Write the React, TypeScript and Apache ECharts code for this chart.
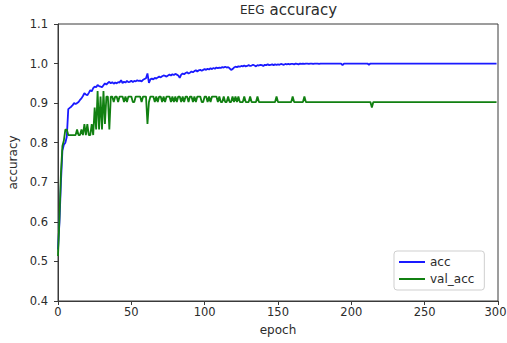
import React, { useEffect, useRef } from "react";
import * as echarts from "echarts";

const xTicks = [0, 50, 100, 150, 200, 250, 300];
const yTicks = [0.4, 0.5, 0.6, 0.7, 0.8, 0.9, 1.0, 1.1];

const acc = [
  0.53, 0.60, 0.70, 0.78, 0.795, 0.80, 0.815, 0.885, 0.888, 0.891,
  0.895, 0.90, 0.898, 0.90, 0.903, 0.908, 0.912, 0.918, 0.925, 0.922,
  0.92, 0.926, 0.933, 0.93, 0.938, 0.942, 0.94, 0.946, 0.943, 0.942,
  0.94, 0.945, 0.95, 0.947, 0.951, 0.954, 0.95, 0.953, 0.949, 0.952,
  0.95, 0.953, 0.952, 0.958, 0.951, 0.954, 0.952, 0.956, 0.953, 0.954,
  0.957, 0.953, 0.956, 0.955, 0.958, 0.956, 0.957, 0.955, 0.959, 0.961,
  0.963, 0.975, 0.951, 0.96, 0.962, 0.96, 0.964, 0.962, 0.965, 0.967,
  0.965, 0.968, 0.97, 0.969, 0.967, 0.97, 0.972, 0.97, 0.973, 0.971,
  0.974, 0.972, 0.97, 0.964, 0.972, 0.975, 0.973, 0.976, 0.978, 0.975,
  0.977, 0.98, 0.978, 0.981, 0.983, 0.98, 0.983, 0.984, 0.982, 0.984,
  0.986, 0.984, 0.987, 0.985, 0.988, 0.986, 0.989, 0.987, 0.99, 0.988,
  0.99, 0.989, 0.991, 0.99, 0.992, 0.99, 0.991, 0.988, 0.984, 0.986,
  0.99, 0.992, 0.991, 0.993, 0.992, 0.994, 0.993, 0.995, 0.993, 0.994,
  0.996, 0.994, 0.995, 0.997, 0.995, 0.993, 0.996, 0.995, 0.997, 0.996,
  0.994, 0.997, 0.996, 0.998, 0.996, 0.997, 0.998, 0.996, 0.998, 0.997,
  0.998, 0.997, 0.999, 0.998, 0.997, 0.999, 0.998, 0.999, 0.998, 0.999,
  0.999, 0.998, 1.0, 0.999, 0.998, 1.0, 0.999, 1.0, 0.999, 1.0,
  1.0, 0.999, 1.0, 1.0, 0.999, 1.0, 1.0, 1.0, 0.999, 1.0,
  1.0, 1.0, 1.0, 1.0, 1.0, 1.0, 1.0, 1.0, 1.0, 1.0,
  1.0, 1.0, 1.0, 1.0, 0.996, 1.0, 1.0, 1.0, 1.0, 1.0,
  1.0, 1.0, 1.0, 1.0, 1.0, 1.0, 1.0, 1.0, 1.0, 1.0,
  1.0, 1.0, 0.997, 1.0, 1.0, 1.0, 1.0, 1.0, 1.0, 1.0,
  1.0, 1.0, 1.0, 1.0, 1.0, 1.0, 1.0, 1.0, 1.0, 1.0,
  1.0, 1.0, 1.0, 1.0, 1.0, 1.0, 1.0, 1.0, 1.0, 1.0,
  1.0, 1.0, 1.0, 1.0, 1.0, 1.0, 1.0, 1.0, 1.0, 1.0,
  1.0, 1.0, 1.0, 1.0, 1.0, 1.0, 1.0, 1.0, 1.0, 1.0,
  1.0, 1.0, 1.0, 1.0, 1.0, 1.0, 1.0, 1.0, 1.0, 1.0,
  1.0, 1.0, 1.0, 1.0, 1.0, 1.0, 1.0, 1.0, 1.0, 1.0,
  1.0, 1.0, 1.0, 1.0, 1.0, 1.0, 1.0, 1.0, 1.0, 1.0,
  1.0, 1.0, 1.0, 1.0, 1.0, 1.0, 1.0, 1.0, 1.0, 1.0,
];

const valAcc = [
  0.5139, 0.6111, 0.7222, 0.7917, 0.8056, 0.8333, 0.8333, 0.8194, 0.8194, 0.8194,
  0.8194, 0.8194, 0.8194, 0.8333, 0.8194, 0.8194, 0.8333, 0.8194, 0.8472, 0.8194,
  0.8472, 0.8194, 0.8194, 0.8472, 0.8194, 0.8889, 0.8333, 0.9306, 0.8333, 0.9167,
  0.8333, 0.9306, 0.8472, 0.9167, 0.9167, 0.8333, 0.9167, 0.9167, 0.9028, 0.9167,
  0.9167, 0.9028, 0.9167, 0.9167, 0.9167, 0.9028, 0.9167, 0.9028, 0.9167, 0.9167,
  0.9167, 0.9028, 0.9028, 0.9167, 0.9167, 0.9167, 0.9167, 0.9028, 0.9167, 0.9167,
  0.9167, 0.8472, 0.9028, 0.9167, 0.9167, 0.9167, 0.9028, 0.9167, 0.9028, 0.9167,
  0.9167, 0.9028, 0.9167, 0.9028, 0.9167, 0.9167, 0.9167, 0.9028, 0.9167, 0.9028,
  0.9167, 0.9028, 0.9167, 0.9167, 0.9028, 0.9167, 0.9028, 0.9167, 0.9167, 0.9028,
  0.9167, 0.9167, 0.9028, 0.9167, 0.9028, 0.9167, 0.9167, 0.9167, 0.9028, 0.9028,
  0.9167, 0.9167, 0.9028, 0.9167, 0.9028, 0.9167, 0.9167, 0.9167, 0.9167, 0.9028,
  0.9167, 0.9028, 0.9028, 0.9167, 0.9028, 0.9028, 0.9167, 0.9028, 0.9028, 0.9167,
  0.9028, 0.9167, 0.9028, 0.9167, 0.9028, 0.9028, 0.9028, 0.9167, 0.9028, 0.9028,
  0.9028, 0.9167, 0.9028, 0.9028, 0.9028, 0.9028, 0.9167, 0.9028, 0.9028, 0.9028,
  0.9028, 0.9028, 0.9028, 0.9028, 0.9028, 0.9028, 0.9028, 0.9028, 0.9028, 0.9167,
  0.9028, 0.9028, 0.9028, 0.9028, 0.9028, 0.9028, 0.9028, 0.9028, 0.9028, 0.9028,
  0.9167, 0.9028, 0.9028, 0.9028, 0.9028, 0.9028, 0.9028, 0.9028, 0.9167, 0.9028,
  0.9028, 0.9028, 0.9028, 0.9028, 0.9028, 0.9028, 0.9028, 0.9028, 0.9028, 0.9028,
  0.9028, 0.9028, 0.9028, 0.9028, 0.9028, 0.9028, 0.9028, 0.9028, 0.9028, 0.9028,
  0.9028, 0.9028, 0.9028, 0.9028, 0.9028, 0.9028, 0.9028, 0.9028, 0.9028, 0.9028,
  0.9028, 0.9028, 0.9028, 0.9028, 0.9028, 0.9028, 0.9028, 0.9028, 0.9028, 0.9028,
  0.9028, 0.9028, 0.9028, 0.9028, 0.8889, 0.9028, 0.9028, 0.9028, 0.9028, 0.9028,
  0.9028, 0.9028, 0.9028, 0.9028, 0.9028, 0.9028, 0.9028, 0.9028, 0.9028, 0.9028,
  0.9028, 0.9028, 0.9028, 0.9028, 0.9028, 0.9028, 0.9028, 0.9028, 0.9028, 0.9028,
  0.9028, 0.9028, 0.9028, 0.9028, 0.9028, 0.9028, 0.9028, 0.9028, 0.9028, 0.9028,
  0.9028, 0.9028, 0.9028, 0.9028, 0.9028, 0.9028, 0.9028, 0.9028, 0.9028, 0.9028,
  0.9028, 0.9028, 0.9028, 0.9028, 0.9028, 0.9028, 0.9028, 0.9028, 0.9028, 0.9028,
  0.9028, 0.9028, 0.9028, 0.9028, 0.9028, 0.9028, 0.9028, 0.9028, 0.9028, 0.9028,
  0.9028, 0.9028, 0.9028, 0.9028, 0.9028, 0.9028, 0.9028, 0.9028, 0.9028, 0.9028,
  0.9028, 0.9028, 0.9028, 0.9028, 0.9028, 0.9028, 0.9028, 0.9028, 0.9028, 0.9028,
];

const FONT = "DejaVu Sans";
const TEXT = "#2b2b2b";
const AXIS = "#3a3a3a";

export default function App() {
  const ref = useRef<HTMLDivElement>(null);
  useEffect(() => {
    if (!ref.current) return;
    const chart = echarts.init(ref.current, null, { renderer: "svg" });
    const lastTick = xTicks[xTicks.length - 1];
    chart.setOption({
      animation: false,
      backgroundColor: "#ffffff",
      title: {
        text: "{a|EEG} {b|accuracy}",
        left: 240,
        top: 1,
        padding: 0,
        textStyle: {
          fontWeight: "normal",
          rich: {
            a: { fontSize: 12, fontFamily: FONT, color: TEXT, fontWeight: "normal" },
            b: { fontSize: 15, fontFamily: FONT, color: TEXT, fontWeight: "normal" },
          },
        },
      },
      grid: {
        left: 58,
        right: 9,
        top: 24,
        bottom: 42,
        containLabel: false,
        outerBoundsMode: "none",
        show: true,
        borderColor: AXIS,
        borderWidth: 1,
        backgroundColor: "transparent",
      },
      legend: {
        orient: "vertical",
        left: 394,
        top: 251,
        padding: [5, 10, 5, 5],
        itemGap: 5,
        itemWidth: 26,
        itemHeight: 2,
        itemTextGap: 10,
        icon: "rect",
        backgroundColor: "#ffffff",
        borderColor: "#cfcfcf",
        borderWidth: 1,
        borderRadius: 3,
        textStyle: { fontSize: 12, fontFamily: FONT, color: TEXT },
        data: ["acc", "val_acc"],
      },
      xAxis: {
        type: "value",
        min: xTicks[0],
        max: lastTick,
        interval: xTicks[1] - xTicks[0],
        name: "epoch",
        nameLocation: "middle",
        nameGap: 23,
        nameTextStyle: { fontSize: 12, fontFamily: FONT, color: TEXT },
        axisLine: { show: true, onZero: false, lineStyle: { color: AXIS, width: 1 } },
        axisTick: { show: true, length: 4, lineStyle: { color: AXIS } },
        axisLabel: {
          margin: 5,
          fontSize: 11.5,
          fontFamily: FONT,
          color: TEXT,
          formatter: (v: number) => (v === lastTick ? `{e|${v}}` : `${v}`),
          rich: {
            e: { fontSize: 11.5, fontFamily: FONT, color: TEXT, padding: [0, 5, 0, 0] },
          },
        },
        splitLine: { show: false },
      },
      yAxis: {
        type: "value",
        min: yTicks[0],
        max: yTicks[yTicks.length - 1],
        interval: 0.1,
        name: "accuracy",
        nameLocation: "middle",
        nameGap: 38,
        nameTextStyle: { fontSize: 12, fontFamily: FONT, color: TEXT },
        axisLine: { show: true, onZero: false, lineStyle: { color: AXIS, width: 1 } },
        axisTick: { show: true, length: 4, lineStyle: { color: AXIS } },
        axisLabel: {
          margin: 10,
          fontSize: 11.5,
          fontFamily: FONT,
          color: TEXT,
          formatter: (v: number) => v.toFixed(1),
        },
        splitLine: { show: false },
      },
      series: [
        {
          name: "acc",
          type: "line",
          data: acc.map((v, i) => [i, v]),
          showSymbol: false,
          symbol: "none",
          color: "#1a1aff",
          lineStyle: { color: "#1a1aff", width: 1.8 },
        },
        {
          name: "val_acc",
          type: "line",
          data: valAcc.map((v, i) => [i, v]),
          showSymbol: false,
          symbol: "none",
          color: "#118011",
          lineStyle: { color: "#118011", width: 1.8 },
        },
      ],
    });
    return () => chart.dispose();
  }, []);
  return (
    <div
      ref={ref}
      style={{ position: "fixed", left: 0, top: 0, width: 507, height: 343 }}
    />
  );
}
